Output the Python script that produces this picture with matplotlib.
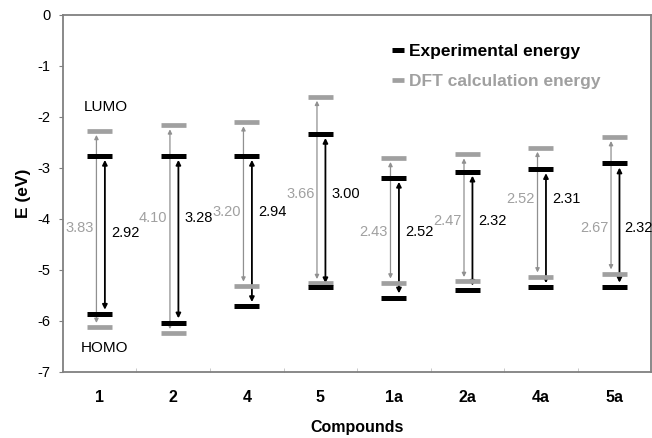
import matplotlib.pyplot as plt

plt.rcParams['font.family'] = ['Liberation Sans', 'DejaVu Sans']
plt.rcParams['axes.unicode_minus'] = False

# HOMO / LUMO levels (eV) per compound
compounds = ['1', '2', '4', '5', '1a', '2a', '4a', '5a']
exp_lumo = [-2.76, -2.76, -2.76, -2.33, -3.19, -3.07, -3.02, -2.91]
exp_homo = [-5.86, -6.03, -5.71, -5.34, -5.54, -5.39, -5.34, -5.33]
dft_lumo = [-2.27, -2.16, -2.10, -1.60, -2.80, -2.73, -2.60, -2.39]
dft_homo = [-6.12, -6.24, -5.31, -5.26, -5.25, -5.22, -5.13, -5.07]

# band gap labels
exp_gap = ['2.92', '3.28', '2.94', '3.00', '2.52', '2.32', '2.31', '2.32']
dft_gap = ['3.83', '4.10', '3.20', '3.66', '2.43', '2.47', '2.52', '2.67']
exp_label_y = [-4.28, -3.98, -3.87, -3.51, -4.25, -4.03, -3.61, -4.17]
dft_label_y = [-4.17, -3.98, -3.87, -3.51, -4.25, -4.03, -3.61, -4.17]

GREY = '#a0a0a0'
DARK = '#000000'

fig = plt.figure(figsize=(6.52, 4.38), dpi=100)
ax = fig.add_axes([0.0966, 0.1507, 0.9020, 0.8151])

x = list(range(len(compounds)))
half = 0.17

# energy level bars
ax.hlines(dft_lumo, [i - half for i in x], [i + half for i in x], colors=GREY, lw=3.4,
          label='DFT calculation energy', zorder=3)
ax.hlines(dft_homo, [i - half for i in x], [i + half for i in x], colors=GREY, lw=3.4, zorder=3)
ax.hlines(exp_lumo, [i - half for i in x], [i + half for i in x], colors=DARK, lw=3.6,
          label='Experimental energy', zorder=4)
ax.hlines(exp_homo, [i - half for i in x], [i + half for i in x], colors=DARK, lw=3.6, zorder=4)

# gap arrows and their labels
for i in x:
    ax.annotate('', xy=(i - 0.045, dft_homo[i]), xytext=(i - 0.045, dft_lumo[i]),
                arrowprops=dict(arrowstyle='<|-|>', color='#909090', lw=0.9,
                                mutation_scale=6, shrinkA=3, shrinkB=3), zorder=2)
    ax.annotate('', xy=(i + 0.07, exp_homo[i]), xytext=(i + 0.07, exp_lumo[i]),
                arrowprops=dict(arrowstyle='<|-|>', color=DARK, lw=1.3,
                                mutation_scale=7, shrinkA=3, shrinkB=3), zorder=2)
    ax.text(i - 0.08, dft_label_y[i], dft_gap[i], ha='right', va='center',
            fontsize=10.5, color=GREY)
    # last column sits against the right border, so pull its label in a little
    dx = 0.13 if i == x[-1] else 0.15
    ax.text(i + dx, exp_label_y[i], exp_gap[i], ha='left', va='center',
            fontsize=10.5, color=DARK)

ax.text(0.08, -1.8, 'LUMO', ha='center', va='center', fontsize=11)
ax.text(0.07, -6.53, 'HOMO', ha='center', va='center', fontsize=11)

ax.set_xlim(-0.5, len(compounds) - 0.5)
ax.set_ylim(-7, 0)
ax.set_yticks(range(-7, 1))
ax.set_xticks(x)
ax.set_xticklabels(compounds, fontweight='bold', fontsize=11.5)
ax.set_xticks([i + 0.5 for i in x[:-1]], minor=True)
ax.tick_params(axis='x', which='major', length=0, pad=13)
ax.tick_params(axis='x', which='minor', direction='in', length=3, color='#c0c0c0')
ax.tick_params(axis='y', labelsize=10.5, length=3, color='#808080', pad=6)

for s in ax.spines.values():
    s.set_color('#808080')
    s.set_linewidth(1.3)

ax.set_xlabel('Compounds', fontweight='bold', fontsize=11.5, labelpad=11)
ax.set_ylabel('E (eV)', fontweight='bold', fontsize=12.5, labelpad=5)

handles, labels = ax.get_legend_handles_labels()
leg = ax.legend(handles[::-1], labels[::-1], loc='upper left', bbox_to_anchor=(0.56, 0.92),
                frameon=False, borderpad=0, borderaxespad=0, handlelength=0.7,
                handletextpad=0.25, labelspacing=0.85,
                prop={'weight': 'bold', 'size': 12.5})
for t, c in zip(leg.get_texts(), [DARK, GREY]):
    t.set_color(c)

fig.savefig('out.png', dpi=100)
